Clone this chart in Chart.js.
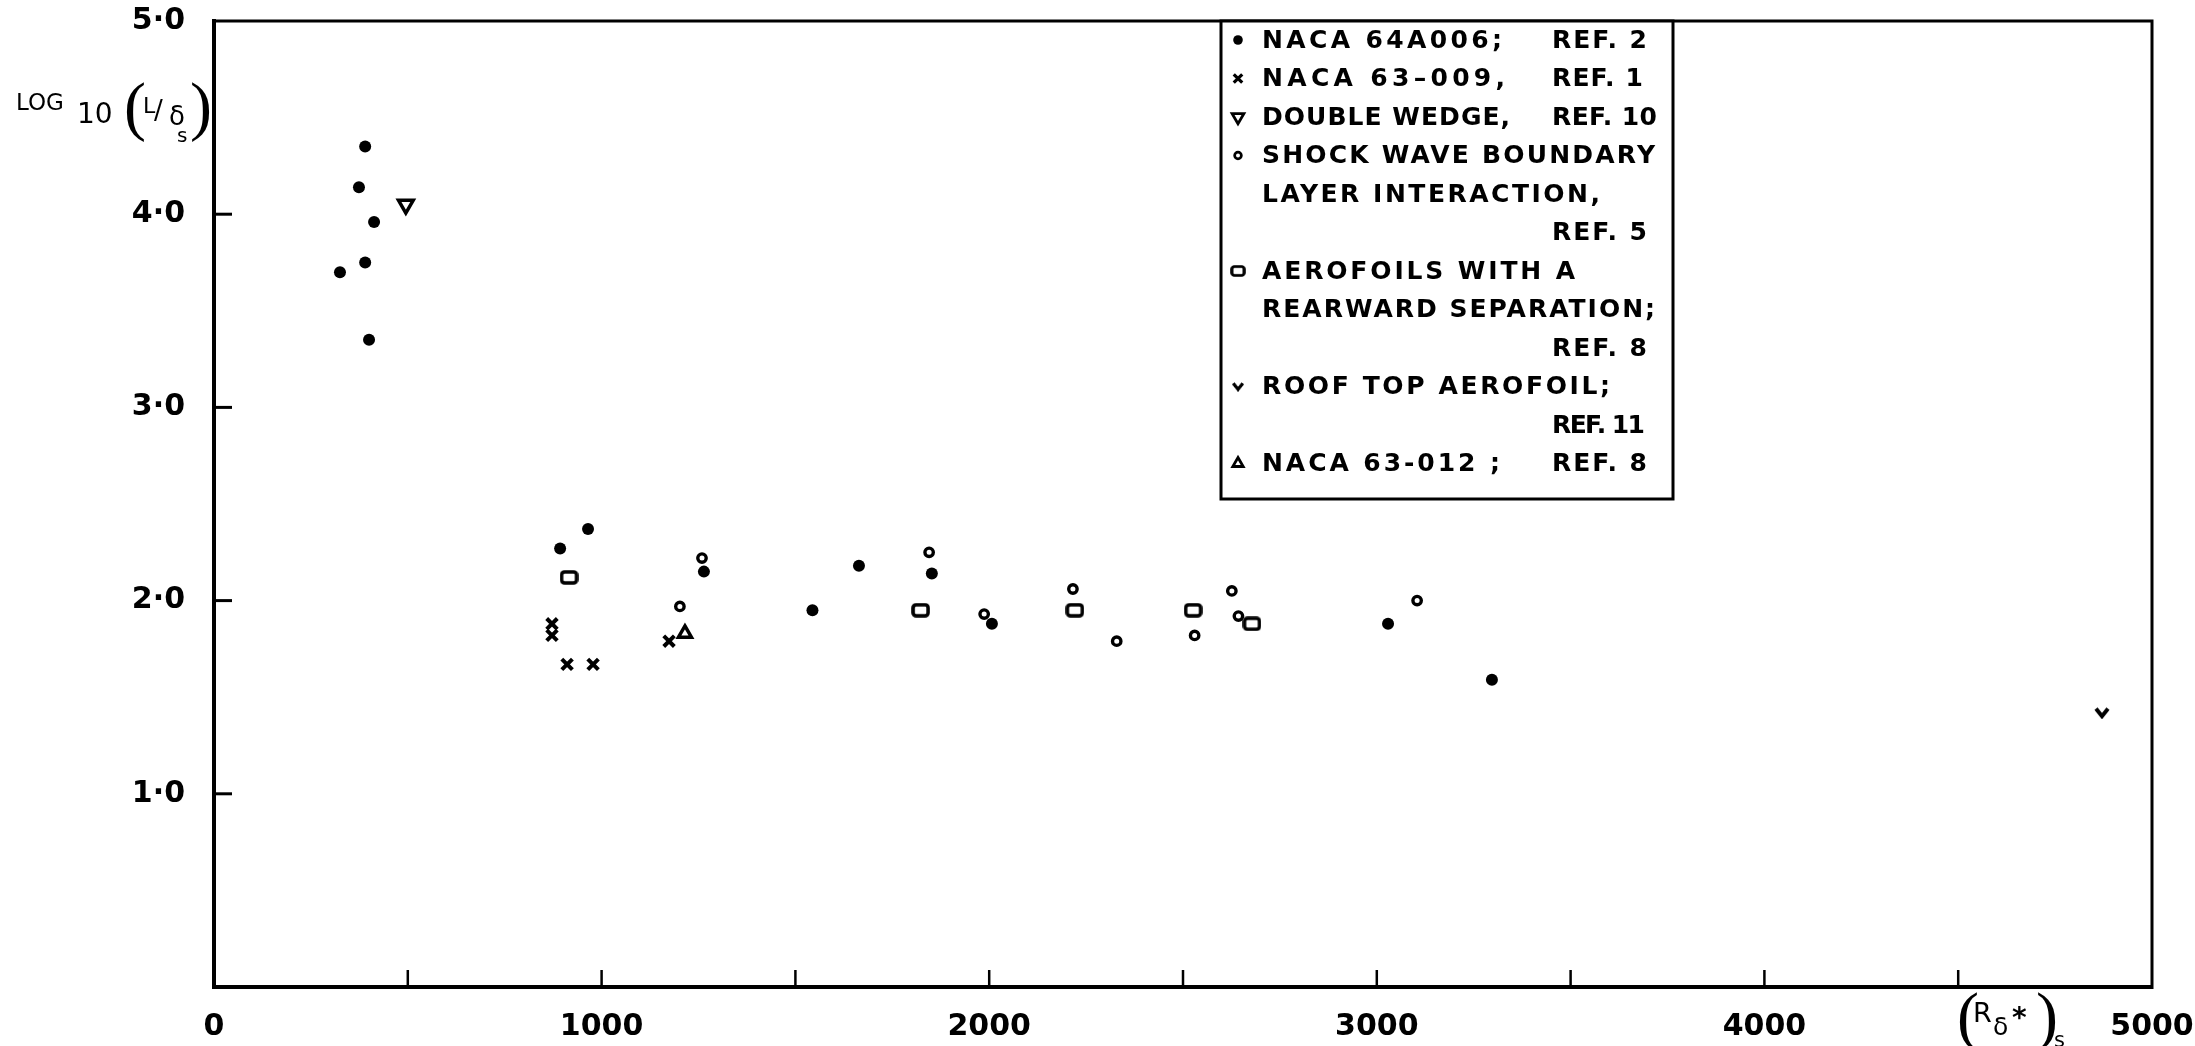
<!DOCTYPE html>
<html>
<head>
<meta charset="utf-8">
<script src="https://cdn.jsdelivr.net/npm/chart.js@4.4.1/dist/chart.umd.min.js"></script>
<style>
html, body { margin: 0; padding: 0; background: #fff; }
#wrap { width: 2195px; height: 1046px; }
</style>
</head>
<body>
<div id="wrap"><canvas id="chart" width="2195" height="1046"></canvas></div>
<script>
// values: x = (R_delta*)_s, y = log10(L/delta_s)
const naca64a006X = [325, 374, 390, 390, 400, 413, 893, 965, 1264, 1544, 1664, 1852, 2007, 3029, 3297];
const naca64a006Y = [3.70, 4.14, 4.35, 3.75, 3.35, 3.96, 2.27, 2.37, 2.15, 1.95, 2.18, 2.14, 1.88, 1.88, 1.59];

const naca63009X = [872, 872, 911, 978, 1174];
const naca63009Y = [1.88, 1.82, 1.67, 1.67, 1.79];

const doubleWedgeX = [495];
const doubleWedgeY = [4.05];

const shockWaveX = [1202, 1259, 1845, 1987, 2216, 2329, 2530, 2626, 2643, 3104];
const shockWaveY = [1.97, 2.22, 2.25, 1.93, 2.06, 1.79, 1.82, 2.05, 1.92, 2.00];

const rearwardSepX = [916, 1823, 2221, 2526, 2678];
const rearwardSepY = [2.12, 1.95, 1.95, 1.95, 1.88];

const roofTopX = [4871];
const roofTopY = [1.42];

const naca63012X = [1215];
const naca63012Y = [1.83];

const xTickLabels = ['0', '1000', '2000', '3000', '4000', '5000'];
const yTickLabels = ['', '1·0', '2·0', '3·0', '4·0', '5·0'];

const legendRows = [
    { marker: 0, text: 'NACA 64A006;', ref: 'REF. 2' },
    { marker: 1, text: 'NACA 63–009,', ref: 'REF. 1' },
    { marker: 2, text: 'DOUBLE WEDGE,', ref: 'REF. 10' },
    { marker: 3, text: 'SHOCK WAVE BOUNDARY' },
    { text: 'LAYER INTERACTION,' },
    { ref: 'REF. 5' },
    { marker: 4, text: 'AEROFOILS WITH A' },
    { text: 'REARWARD SEPARATION;' },
    { ref: 'REF. 8' },
    { marker: 5, text: 'ROOF TOP AEROFOIL;' },
    { ref: 'REF. 11' },
    { marker: 6, text: 'NACA 63-012 ;', ref: 'REF. 8' }
];

const toPoints = (xs, ys) => xs.map((x, i) => ({ x, y: ys[i] }));

// small canvas markers for the flat box and the "v"
const boxMarker = document.createElement('canvas');
boxMarker.width = 19; boxMarker.height = 15;
(() => {
    const c = boxMarker.getContext('2d');
    c.lineWidth = 3.6; c.strokeStyle = '#000';
    c.beginPath();
    c.roundRect(2, 2, 15, 11, 3);
    c.stroke();
})();

const vMarker = document.createElement('canvas');
vMarker.width = 16; vMarker.height = 13;
(() => {
    const c = vMarker.getContext('2d');
    c.lineWidth = 4; c.strokeStyle = '#000'; c.lineJoin = 'miter';
    c.beginPath();
    c.moveTo(2, 2.5); c.lineTo(8, 10); c.lineTo(14, 2.5);
    c.stroke();
})();

const datasets = [
    { label: 'NACA 64A006', data: toPoints(naca64a006X, naca64a006Y), pointStyle: 'circle', pointRadius: 6, pointBorderWidth: 0, pointBackgroundColor: '#000', pointBorderColor: '#000' },
    { label: 'NACA 63-009', data: toPoints(naca63009X, naca63009Y), pointStyle: 'crossRot', pointRadius: 7.5, pointBorderWidth: 4, pointBackgroundColor: '#000', pointBorderColor: '#000' },
    { label: 'Double wedge', data: toPoints(doubleWedgeX, doubleWedgeY), pointStyle: 'triangle', pointRotation: 180, pointRadius: 8.5, pointBorderWidth: 3.5, pointBackgroundColor: '#fff', pointBorderColor: '#000' },
    { label: 'Shock wave boundary layer interaction', data: toPoints(shockWaveX, shockWaveY), pointStyle: 'circle', pointRadius: 4.2, pointBorderWidth: 3.4, pointBackgroundColor: '#fff', pointBorderColor: '#000' },
    { label: 'Aerofoils with a rearward separation', data: toPoints(rearwardSepX, rearwardSepY), pointStyle: boxMarker, pointRadius: 7 },
    { label: 'Roof top aerofoil', data: toPoints(roofTopX, roofTopY), pointStyle: vMarker, pointRadius: 7 },
    { label: 'NACA 63-012', data: toPoints(naca63012X, naca63012Y), pointStyle: 'triangle', pointRadius: 7.5, pointBorderWidth: 3.5, pointBackgroundColor: '#fff', pointBorderColor: '#000' }
];

function fitText(ctx, text, x, y, width) {
    ctx.letterSpacing = '0px';
    const w = ctx.measureText(text).width;
    const n = [...text].length;
    const ls = n > 1 ? (width - w) / (n - 1) : 0;
    ctx.letterSpacing = ls.toFixed(2) + 'px';
    ctx.fillText(text, x, y);
    ctx.letterSpacing = '0px';
}

function drawMarker(ctx, ds, x, y, k) {
    const style = ds.pointStyle;
    if (style instanceof HTMLCanvasElement) {
        const w = style.width * k, h = style.height * k;
        ctx.drawImage(style, x - w / 2, y - h / 2, w, h);
        return;
    }
    ctx.save();
    ctx.fillStyle = ds.pointBackgroundColor;
    ctx.strokeStyle = ds.pointBorderColor;
    ctx.lineWidth = ds.pointBorderWidth * 0.8;
    Chart.helpers.drawPoint(ctx, {
        pointStyle: style,
        radius: ds.pointRadius * k,
        rotation: ds.pointRotation || 0,
        borderWidth: ds.pointBorderWidth
    }, x, y);
    ctx.restore();
}

const framePlugin = {
    id: 'frame',
    afterDraw(chart) {
        const { ctx, chartArea: a, scales: { x, y } } = chart;
        ctx.save();
        ctx.strokeStyle = '#000';
        ctx.fillStyle = '#000';

        // top and right frame lines
        ctx.lineWidth = 3;
        ctx.beginPath();
        ctx.moveTo(a.left - 2, a.top);
        ctx.lineTo(a.right, a.top);
        ctx.lineTo(a.right, a.bottom + 2);
        ctx.stroke();

        // inward tick marks
        ctx.lineWidth = 2.5;
        x.ticks.forEach(t => {
            if (t.value <= 0 || t.value >= 5000) return;
            const px = x.getPixelForValue(t.value);
            ctx.beginPath();
            ctx.moveTo(px, a.bottom);
            ctx.lineTo(px, a.bottom - 17);
            ctx.stroke();
        });
        ctx.lineWidth = 3;
        y.ticks.forEach(t => {
            if (t.value <= 0 || t.value >= 5) return;
            const py = y.getPixelForValue(t.value);
            ctx.beginPath();
            ctx.moveTo(a.left, py);
            ctx.lineTo(a.left + 18, py);
            ctx.stroke();
        });

        // y-axis title: LOG10 (L/δs)
        ctx.textBaseline = 'alphabetic';
        ctx.textAlign = 'left';
        ctx.font = '23px "DejaVu Sans"';
        ctx.fillText('LOG', 16, 110);
        ctx.font = '28px "DejaVu Sans"';
        ctx.fillText('10', 77, 123);
        ctx.font = '66px "Liberation Serif"';
        ctx.fillText('(', 124, 128);
        ctx.fillText(')', 190, 128);
        ctx.font = '22px "DejaVu Sans"';
        ctx.fillText('L', 143, 113);
        ctx.font = '26px "DejaVu Sans"';
        ctx.fillText('/', 154, 119);
        ctx.font = '26px "DejaVu Sans"';
        ctx.fillText('δ', 169, 125);
        ctx.font = '20px "DejaVu Sans"';
        ctx.fillText('s', 177, 142);

        // x-axis title: (Rδ*)s
        ctx.font = '66px "Liberation Serif"';
        ctx.fillText('(', 1957, 1038);
        ctx.fillText(')', 2036, 1038);
        ctx.font = '27px "DejaVu Sans"';
        ctx.fillText('R', 1973, 1022);
        ctx.font = '25px "DejaVu Sans"';
        ctx.fillText('δ', 1993, 1035);
        ctx.font = 'bold 28px "DejaVu Sans"';
        ctx.fillText('*', 2012, 1027);
        ctx.font = '21px "DejaVu Sans"';
        ctx.fillText('s', 2054, 1047);

        // legend box
        const bx = 1221, by = a.top, bw = 452, bh = 499 - a.top;
        ctx.fillStyle = '#fff';
        ctx.fillRect(bx, by, bw, bh);
        ctx.lineWidth = 3;
        ctx.strokeRect(bx, by, bw, bh);
        ctx.fillStyle = '#000';
        ctx.textBaseline = 'middle';
        ctx.font = 'bold 25px "DejaVu Sans"';
        const textWidths = [240, 243, 248, 393, 338, null, 313, 393, null, 348, null, 238];
        const refWidths = [95, 91, 105, null, null, 95, null, null, 95, null, 93, 95];
        legendRows.forEach((row, i) => {
            const ry = 40 + i * 38.5;
            if (row.marker !== undefined) drawMarker(ctx, datasets[row.marker], 1238, ry, 0.8);
            if (row.text) fitText(ctx, row.text, 1262, ry + 1, textWidths[i]);
            if (row.ref) fitText(ctx, row.ref, 1552, ry + 1, refWidths[i]);
        });
        ctx.restore();
    }
};

const tickFont = { family: 'DejaVu Sans', size: 30, weight: 'bold' };

new Chart(document.getElementById('chart'), {
    type: 'scatter',
    data: { datasets },
    options: {
        responsive: false,
        animation: false,
        devicePixelRatio: 1,
        layout: { padding: { top: 21, right: 43, left: 0, bottom: 0 } },
        plugins: { legend: { display: false }, tooltip: { enabled: false } },
        scales: {
            x: {
                type: 'linear',
                min: 0,
                max: 5000,
                afterFit: s => { s.height = 59; s.paddingLeft = 0; s.paddingRight = 0; },
                grid: { display: false },
                border: { display: true, width: 4, color: '#000' },
                ticks: {
                    stepSize: 500,
                    autoSkip: false,
                    maxRotation: 0,
                    padding: 14,
                    color: '#000',
                    font: tickFont,
                    callback: v => (v % 1000 === 0 ? xTickLabels[v / 1000] : '')
                }
            },
            y: {
                type: 'linear',
                min: 0,
                max: 5,
                afterFit: s => { s.width = 214; s.paddingTop = 0; s.paddingBottom = 0; },
                grid: { display: false },
                border: { display: true, width: 4, color: '#000' },
                ticks: {
                    stepSize: 1,
                    padding: 21,
                    color: '#000',
                    font: tickFont,
                    callback: v => yTickLabels[v]
                }
            }
        }
    },
    plugins: [framePlugin]
});
</script>
</body>
</html>
